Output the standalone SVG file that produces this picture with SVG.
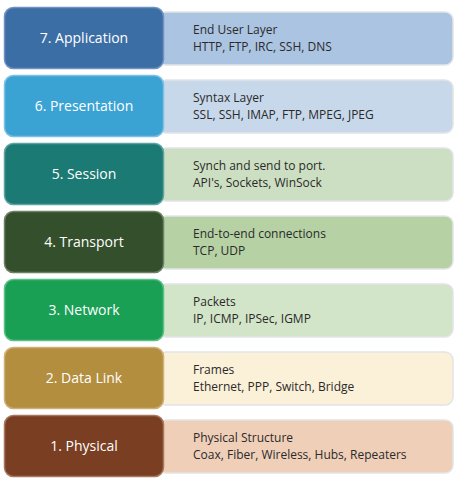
<svg xmlns="http://www.w3.org/2000/svg" width="460" height="485" viewBox="0 0 460 485">
  <style>
    .layer { stroke-width: 1.5; }
    .info { stroke: #e2e4e6; stroke-width: 1.5; }
    .name { font-family: "Open Sans", "Noto Sans", sans-serif; font-size: 14px; fill: #ffffff; text-anchor: middle; }
    .desc { font-family: "Open Sans", "Noto Sans", sans-serif; font-size: 12px; fill: #2a2a2a; }
  </style>
  <rect width="460" height="485" fill="#ffffff"/>

  <!-- OSI layers, top (7) to bottom (1) -->
  <g id="layer7">
    <rect class="info" x="158" y="12" width="295" height="53" rx="8" fill="#aac4e2"/>
    <rect class="layer" x="4.5" y="7.5" width="159" height="61" rx="9" fill="#3c6ea6" stroke="#6f93c0"/>
    <text class="name" x="84" y="43">7. Application</text>
    <text class="desc" x="193" y="34">End User Layer</text>
    <text class="desc" x="193" y="51">HTTP, FTP, IRC, SSH, DNS</text>
  </g>

  <g id="layer6">
    <rect class="info" x="158" y="80" width="295" height="53" rx="8" fill="#c7d8ea"/>
    <rect class="layer" x="4.5" y="75.5" width="159" height="61" rx="9" fill="#3aa3d4" stroke="#7cc0e2"/>
    <text class="name" x="84" y="111">6. Presentation</text>
    <text class="desc" x="193" y="102">Syntax Layer</text>
    <text class="desc" x="193" y="119">SSL, SSH, IMAP, FTP, MPEG, JPEG</text>
  </g>

  <g id="layer5">
    <rect class="info" x="158" y="148" width="295" height="53" rx="8" fill="#cddfc2"/>
    <rect class="layer" x="4.5" y="143.5" width="159" height="61" rx="9" fill="#1b7a73" stroke="#5ea39d"/>
    <text class="name" x="84" y="179">5. Session</text>
    <text class="desc" x="193" y="170">Synch and send to port.</text>
    <text class="desc" x="193" y="187">API's, Sockets, WinSock</text>
  </g>

  <g id="layer4">
    <rect class="info" x="158" y="216" width="295" height="53" rx="8" fill="#b6d1a4"/>
    <rect class="layer" x="4.5" y="211.5" width="159" height="61" rx="9" fill="#344f2b" stroke="#6d8265"/>
    <text class="name" x="84" y="247">4. Transport</text>
    <text class="desc" x="193" y="238">End-to-end connections</text>
    <text class="desc" x="193" y="255">TCP, UDP</text>
  </g>

  <g id="layer3">
    <rect class="info" x="158" y="284" width="295" height="53" rx="8" fill="#d3e5c8"/>
    <rect class="layer" x="4.5" y="279.5" width="159" height="61" rx="9" fill="#19a055" stroke="#5dbf87"/>
    <text class="name" x="84" y="315">3. Network</text>
    <text class="desc" x="193" y="306">Packets</text>
    <text class="desc" x="193" y="323">IP, ICMP, IPSec, IGMP</text>
  </g>

  <g id="layer2">
    <rect class="info" x="158" y="352" width="295" height="53" rx="8" fill="#fbf0d8"/>
    <rect class="layer" x="4.5" y="347.5" width="159" height="61" rx="9" fill="#b38e3f" stroke="#cdb07a"/>
    <text class="name" x="84" y="383">2. Data Link</text>
    <text class="desc" x="193" y="374">Frames</text>
    <text class="desc" x="193" y="391">Ethernet, PPP, Switch, Bridge</text>
  </g>

  <g id="layer1">
    <rect class="info" x="158" y="420" width="295" height="53" rx="8" fill="#f0cfb9"/>
    <rect class="layer" x="4.5" y="415.5" width="159" height="61" rx="9" fill="#7a3e22" stroke="#a67862"/>
    <text class="name" x="84" y="451">1. Physical</text>
    <text class="desc" x="193" y="442">Physical Structure</text>
    <text class="desc" x="193" y="459">Coax, Fiber, Wireless, Hubs, Repeaters</text>
  </g>

  <g id="connectors"/>
</svg>
